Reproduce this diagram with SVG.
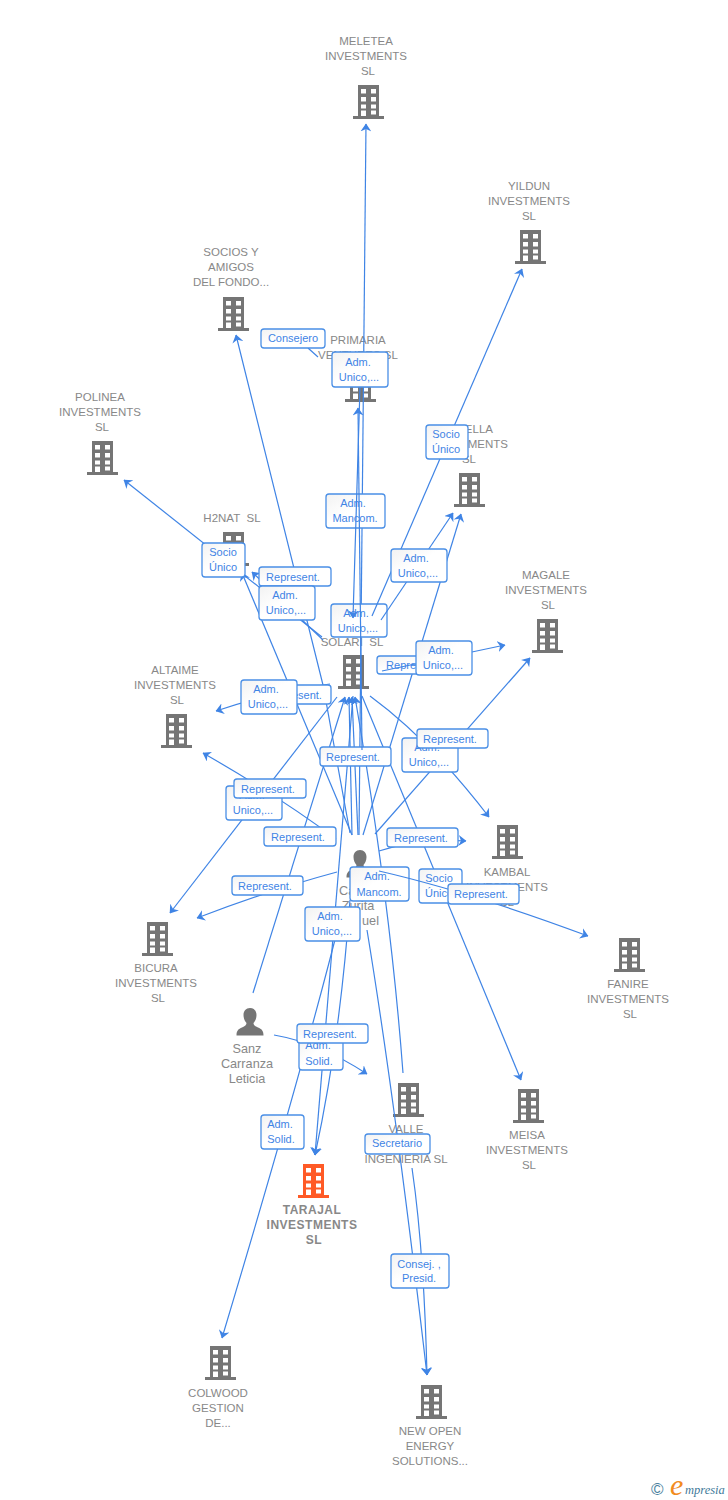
<svg xmlns="http://www.w3.org/2000/svg" width="728" height="1500" viewBox="0 0 728 1500">
<style>
.n{font:11.5px "Liberation Sans",Arial,sans-serif;fill:#888;text-anchor:middle}
.p{font:12.7px "Liberation Sans",Arial,sans-serif;fill:#888;text-anchor:middle}
.b{font-weight:bold;font-size:12px;letter-spacing:.5px}
.l{font:11px "Liberation Sans",Arial,sans-serif;fill:#3f84e5;text-anchor:middle}
.c{fill:none;stroke:#3f84e5;stroke-width:1.2}
.a{marker-end:url(#arr)}
.r{fill:url(#g);stroke:#4a8fe6;stroke-width:1.3}
.i{fill:#757575}
.o{fill:#ff5a26}
</style>
<defs>
<linearGradient id="g" x1="0" y1="0" x2="1" y2="1"><stop offset="0" stop-color="#f2f2f2"/><stop offset=".45" stop-color="#fff"/></linearGradient>
<marker id="arr" markerUnits="userSpaceOnUse" markerWidth="8" markerHeight="11" viewBox="0 0 8 11" refX="7.500" refY="5.5" orient="auto"><path d="M0,0L8,5.5L0,11L2.500,5.5z" fill="#3f84e5"/></marker>
<symbol id="bld" viewBox="0 0 32 34" overflow="visible"><path fill-rule="evenodd" d="M5,0H26V31H31V34H0V31H5ZM8,4V8.500H13V4ZM18,4V8.500H23V4ZM8,12V16.500H13V12ZM18,12V16.500H23V12ZM8,19.500V23.500H13V19.500ZM18,19.500V23.500H23V19.500ZM8,25.500V31H13V25.500ZM18,25.500V29.500H23V25.500Z"/></symbol>
<symbol id="per" viewBox="0 0 28 28" overflow="visible"><path d="M14,0C18,0 20.500,3 20.500,7C20.500,10.500 19,13.500 17.500,15C17.500,17 19,18 22,19.500C25.500,21 27.500,22.500 27.500,27.500H.5C.5,22.500 2.500,21 6,19.500C9,18 10.500,17 10.500,15C9,13.500 7.500,10.500 7.500,7C7.500,3 10,0 14,0Z"/></symbol>
</defs>
<g id="node-meletea"><use href="#bld" class="i" x="353" y="85" width="32" height="34"/><text class="n" x="366" y="45">MELETEA</text><text class="n" x="366" y="60">INVESTMENTS</text><text class="n" x="368" y="75">SL</text></g>
<g id="node-yildun"><use href="#bld" class="i" x="515" y="230" width="32" height="34"/><text class="n" x="529" y="190">YILDUN</text><text class="n" x="529" y="205">INVESTMENTS</text><text class="n" x="529" y="220">SL</text></g>
<g id="node-socios"><use href="#bld" class="i" x="218" y="297" width="32" height="34"/><text class="n" x="231" y="256">SOCIOS Y</text><text class="n" x="231" y="271">AMIGOS</text><text class="n" x="231" y="286">DEL FONDO...</text></g>
<g id="node-primaria"><use href="#bld" class="i" x="345" y="368" width="32" height="34"/><text class="n" x="358" y="344">PRIMARIA</text><text class="n" x="358" y="359">VENTURES SL</text></g>
<g id="node-polinea"><use href="#bld" class="i" x="87" y="441" width="32" height="34"/><text class="n" x="100" y="401">POLINEA</text><text class="n" x="100" y="416">INVESTMENTS</text><text class="n" x="102" y="431">SL</text></g>
<g id="node-ella"><use href="#bld" class="i" x="454" y="473" width="32" height="34"/><text class="n" x="493" y="433" style="text-anchor:end">ELLA</text><text class="n" x="508" y="448" style="text-anchor:end">MENTS</text><text class="n" x="469" y="463">SL</text></g>
<g id="node-h2nat"><use href="#bld" class="i" x="218" y="532" width="32" height="34"/><text class="n" x="232" y="522">H2NAT&#160; SL</text></g>
<g id="node-magale"><use href="#bld" class="i" x="532" y="619" width="32" height="34"/><text class="n" x="546" y="579">MAGALE</text><text class="n" x="546" y="594">INVESTMENTS</text><text class="n" x="548" y="609">SL</text></g>
<g id="node-solari"><use href="#bld" class="i" x="338" y="655" width="32" height="34"/><text class="n" x="352" y="646">SOLARI&#160; SL</text></g>
<g id="node-altaime"><use href="#bld" class="i" x="161" y="714" width="32" height="34"/><text class="n" x="175" y="674">ALTAIME</text><text class="n" x="175" y="689">INVESTMENTS</text><text class="n" x="177" y="704">SL</text></g>
<g id="node-kambal"><use href="#bld" class="i" x="492" y="825" width="32" height="34"/><text class="n" x="507" y="876">KAMBAL</text><text class="n" x="507" y="891">INVESTMENTS</text><text class="n" x="507" y="906">SL</text></g>
<g id="node-bicura"><use href="#bld" class="i" x="142" y="922" width="32" height="34"/><text class="n" x="156" y="972">BICURA</text><text class="n" x="156" y="987">INVESTMENTS</text><text class="n" x="158" y="1002">SL</text></g>
<g id="node-fanire"><use href="#bld" class="i" x="614" y="938" width="32" height="34"/><text class="n" x="628" y="988">FANIRE</text><text class="n" x="628" y="1003">INVESTMENTS</text><text class="n" x="630" y="1018">SL</text></g>
<g id="node-meisa"><use href="#bld" class="i" x="513" y="1089" width="32" height="34"/><text class="n" x="527" y="1139">MEISA</text><text class="n" x="527" y="1154">INVESTMENTS</text><text class="n" x="529" y="1169">SL</text></g>
<g id="node-valle"><use href="#bld" class="i" x="393" y="1083" width="32" height="34"/><text class="n" x="406" y="1133">VALLE</text><text class="n" x="406" y="1163">INGENIERIA SL</text></g>
<g id="node-tarajal"><use href="#bld" class="o" x="298" y="1164" width="32" height="34"/><text class="n b" x="312" y="1214">TARAJAL</text><text class="n b" x="312" y="1229">INVESTMENTS</text><text class="n b" x="314" y="1244">SL</text></g>
<g id="node-colwood"><use href="#bld" class="i" x="205" y="1346" width="32" height="34"/><text class="n" x="218" y="1397">COLWOOD</text><text class="n" x="218" y="1412">GESTION</text><text class="n" x="218" y="1427">DE...</text></g>
<g id="node-newopen"><use href="#bld" class="i" x="416" y="1385" width="32" height="34"/><text class="n" x="430" y="1435">NEW OPEN</text><text class="n" x="430" y="1450">ENERGY</text><text class="n" x="430" y="1465">SOLUTIONS...</text></g>
<g id="node-zurita"><use href="#per" class="i" x="346" y="850" width="28" height="28"/><text class="p" x="339" y="895" style="text-anchor:start">Ca</text><text class="p" x="358" y="910">Zurita</text><text class="p" x="379" y="925" style="text-anchor:end">uel</text></g>
<g id="node-sanz"><use href="#per" class="i" x="236" y="1008" width="28" height="28"/><text class="p" x="247" y="1053">Sanz</text><text class="p" x="247" y="1068">Carranza</text><text class="p" x="247" y="1083">Leticia</text></g>
<g id="connectors">
<g id="lines-under">
<path class="c a" d="M359,835L366,124"/>
<path class="c a" d="M350,833L323,685L236,335"/>
<path class="c a" d="M322,637L124,480"/>
<path class="c a" d="M323,640L252,572"/>
<path class="c a" d="M352,835L242,573"/>
<path class="c a" d="M363,835L461,514"/>
<path class="c a" d="M375,834L530,658"/>
<path class="c a" d="M370,696Q430,740 489,817"/>
<path class="c a" d="M362,696L521,1080"/>
<path class="c a" d="M330,684Q280,690 216,711"/>
<path class="c a" d="M336,839Q280,797 203,753"/>
<path class="c a" d="M337,697L170,913"/>
<path class="c a" d="M337,872Q270,890 197,918"/>
<path class="c a" d="M253,993L345,697"/>
<path class="c a" d="M352,835L349,697"/>
<path class="c a" d="M358,835L352,697"/>
<path class="c a" d="M403,1073Q390,900 355,697"/>
<path class="c a" d="M353,696L315,1155"/>
<path class="c a" d="M350,900Q340,1040 315,1155"/>
<path class="c a" d="M340,920Q302,1071 222,1338"/>
<path class="c a" d="M274,1035Q320,1043 367,1074"/>
<path class="c a" d="M367,930Q395,1100 427,1375"/>
<path class="c a" d="M412,1168Q424,1250 427,1375"/>
<path class="c a" d="M379,851Q420,838 466,841"/>
<path class="c" d="M308,348L318,357"/>
</g>
<g id="labels-lower">
<g><rect class="r" x="261" y="329" width="64" height="19" rx="3"/><text class="l" x="293" y="342">Consejero</text></g>
<g><rect class="r" x="326" y="494" width="59" height="34" rx="3"/><text class="l" x="353" y="507">Adm.</text><text class="l" x="355" y="522">Mancom.</text></g>
<g><rect class="r" x="202" y="543" width="43" height="34" rx="3"/><text class="l" x="223" y="556">Socio</text><text class="l" x="223" y="571">Único</text></g>
<g><rect class="r" x="259" y="567" width="72" height="19" rx="3"/><text class="l" x="293" y="581">Represent.</text></g>
<g><rect class="r" x="259" y="586" width="56" height="34" rx="3"/><text class="l" x="285" y="599">Adm.</text><text class="l" x="286" y="614">Unico,...</text></g>
<g><rect class="r" x="331" y="604" width="56" height="33" rx="3"/><text class="l" x="356" y="617">Adm.</text><text class="l" x="358" y="632">Unico,...</text></g>
<g><rect class="r" x="377" y="656" width="72" height="18" rx="3"/><text class="l" x="413" y="669">Represent.</text></g>
<g><rect class="r" x="259" y="685" width="72" height="19" rx="3"/><text class="l" x="295" y="699">Represent.</text></g>
<g><rect class="r" x="241" y="680" width="56" height="34" rx="3"/><text class="l" x="266" y="693">Adm.</text><text class="l" x="268" y="708">Unico,...</text></g>
<g><rect class="r" x="320" y="747" width="71" height="19" rx="3"/><text class="l" x="353" y="761">Represent.</text></g>
<g><rect class="r" x="402" y="738" width="56" height="34" rx="3"/><text class="l" x="427" y="751">Adm.</text><text class="l" x="429" y="766">Unico,...</text></g>
<g><rect class="r" x="226" y="786" width="56" height="34" rx="3"/><text class="l" x="252" y="799">Adm.</text><text class="l" x="253" y="814">Unico,...</text></g>
<g><rect class="r" x="234" y="779" width="72" height="19" rx="3"/><text class="l" x="268" y="793">Represent.</text></g>
<g><rect class="r" x="264" y="827" width="72" height="19" rx="3"/><text class="l" x="298" y="841">Represent.</text></g>
<g><rect class="r" x="232" y="876" width="71" height="19" rx="3"/><text class="l" x="265" y="890">Represent.</text></g>
<g><rect class="r" x="350" y="867" width="59" height="34" rx="3"/><text class="l" x="377" y="880">Adm.</text><text class="l" x="379" y="896">Mancom.</text></g>
<g><rect class="r" x="419" y="869" width="43" height="34" rx="3"/><text class="l" x="439" y="882">Socio</text><text class="l" x="439" y="897">Único</text></g>
<g><rect class="r" x="305" y="907" width="55" height="34" rx="3"/><text class="l" x="330" y="920">Adm.</text><text class="l" x="332" y="935">Unico,...</text></g>
<g><rect class="r" x="299" y="1036" width="44" height="34" rx="3"/><text class="l" x="318" y="1049">Adm.</text><text class="l" x="319" y="1065">Solid.</text></g>
<g><rect class="r" x="297" y="1024" width="71" height="19" rx="3"/><text class="l" x="330" y="1038">Represent.</text></g>
<g><rect class="r" x="261" y="1115" width="43" height="34" rx="3"/><text class="l" x="280" y="1128">Adm.</text><text class="l" x="281" y="1143">Solid.</text></g>
<g><rect class="r" x="365" y="1134" width="65" height="20" rx="3"/><text class="l" x="397" y="1147">Secretario</text></g>
<g><rect class="r" x="391" y="1254" width="58" height="34" rx="3"/><text class="l" x="419" y="1268">Consej. ,</text><text class="l" x="419" y="1282">Presid.</text></g>
</g>
<g id="lines-over">
<path class="c a" d="M360,387L353,618"/>
<path class="c a" d="M362,750L358,408"/>
<path class="c a" d="M372,616L522,269"/>
<path class="c a" d="M381,620L453,513"/>
<path class="c a" d="M382,671L505,645"/>
<path class="c a" d="M379,871Q470,892 588,936"/>
</g>
<g id="labels-upper">
<g><rect class="r" x="332" y="352" width="56" height="35" rx="3"/><text class="l" x="358" y="366">Adm.</text><text class="l" x="359" y="381">Unico,...</text></g>
<g><rect class="r" x="426" y="425" width="42" height="34" rx="3"/><text class="l" x="446" y="438">Socio</text><text class="l" x="446" y="453">Único</text></g>
<g><rect class="r" x="391" y="549" width="56" height="33" rx="3"/><text class="l" x="416" y="562">Adm.</text><text class="l" x="418" y="577">Unico,...</text></g>
<g><rect class="r" x="416" y="641" width="56" height="34" rx="3"/><text class="l" x="441" y="654">Adm.</text><text class="l" x="443" y="669">Unico,...</text></g>
<g><rect class="r" x="417" y="729" width="71" height="19" rx="3"/><text class="l" x="450" y="743">Represent.</text></g>
<g><rect class="r" x="387" y="828" width="71" height="19" rx="3"/><text class="l" x="421" y="842">Represent.</text></g>
<g><rect class="r" x="448" y="884" width="71" height="20" rx="3"/><text class="l" x="481" y="898">Represent.</text></g>
</g>
</g>
<g id="credit"><text x="651" y="1495" style="font:17px 'Liberation Sans',Arial,sans-serif;fill:#4a7f9e">©</text><text x="670" y="1495" style="font:italic 30px 'Liberation Serif',serif;fill:#f28c1e">e</text><text x="685" y="1494" style="font:italic 12.500px 'Liberation Serif',serif;fill:#3f7a9a">mpresia</text></g>
</svg>
